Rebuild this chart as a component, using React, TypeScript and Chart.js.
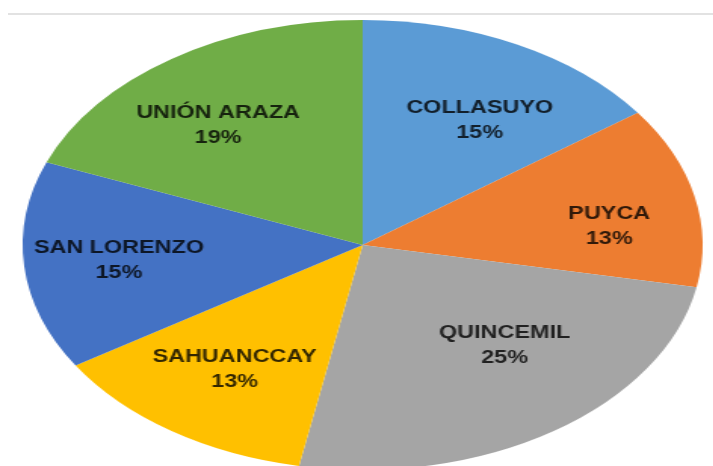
import React, { useEffect, useRef } from "react";
import { Chart, registerables } from "chart.js";

Chart.register(...registerables);

const categories = ["COLLASUYO", "PUYCA", "QUINCEMIL", "SAHUANCCAY", "SAN LORENZO", "UNIÓN ARAZA"];
const shares = [15, 13, 25, 13, 15, 19];
const sliceColors = ["#5B9BD5", "#ED7D31", "#A5A5A5", "#FFC000", "#4472C4", "#70AD47"];

// label placement tweaks (angle shift in degrees, radius fraction)
const labelAngleShift = [5, 6, -9, 0, 0, -4.5];
const labelRadiusFrac = [0.65, 0.73, 0.61, 0.67, 0.72, 0.68];

const STRETCH = 1.511;
const CANVAS_W = 480;
const CANVAS_H = 490;

const labelPlugin = {
  id: "sliceLabels",
  afterDatasetsDraw(chart: any) {
    const ctx = chart.ctx;
    const meta = chart.getDatasetMeta(0);
    const data = chart.data.datasets[0].data as number[];
    const total = data.reduce((a, b) => a + b, 0);
    ctx.save();
    ctx.font = "bold 18px 'Liberation Sans', Arial, sans-serif";
    ctx.textAlign = "center";
    ctx.textBaseline = "middle";
    ctx.fillStyle = "rgba(0,0,0,0.8)";
    meta.data.forEach((arc: any, i: number) => {
      const p = arc.getProps(["x", "y", "startAngle", "endAngle", "outerRadius"], true);
      const mid = (p.startAngle + p.endAngle) / 2 + (labelAngleShift[i] * Math.PI) / 180;
      const r = p.outerRadius * labelRadiusFrac[i];
      const cx = p.x + Math.cos(mid) * r;
      const cy = p.y + Math.sin(mid) * r;
      const pct = Math.round((data[i] / total) * 100) + "%";
      ctx.save();
      ctx.translate(cx, cy);
      ctx.scale(0.86, 1);
      ctx.fillText(String(chart.data.labels[i]), 0, -12.5);
      ctx.fillText(pct, 0, 12.5);
      ctx.restore();
    });
    ctx.restore();
  },
};

export default function App() {
  const ref = useRef<HTMLCanvasElement | null>(null);

  useEffect(() => {
    if (!ref.current) return;
    const chart = new Chart(ref.current, {
      type: "pie",
      data: {
        labels: categories,
        datasets: [
          {
            data: shares,
            backgroundColor: sliceColors,
            borderWidth: 0,
          },
        ],
      },
      options: {
        animation: false,
        responsive: false,
        maintainAspectRatio: false,
        devicePixelRatio: 1,
        layout: { padding: { top: 20, bottom: 20, left: 15, right: 15 } },
        plugins: {
          legend: { display: false },
          tooltip: { enabled: false },
        },
      },
      plugins: [labelPlugin],
    });
    return () => chart.destroy();
  }, []);

  return (
    <div
      style={{
        position: "fixed",
        left: 0,
        top: 0,
        width: 713,
        height: 466,
        overflow: "hidden",
        background: "#ffffff",
      }}
    >
      <div
        style={{
          position: "absolute",
          left: 8,
          right: 0,
          top: 13,
          height: 2,
          background: "#e2e2e2",
        }}
      />
      <div
        style={{
          position: "absolute",
          left: 0,
          top: 0,
          width: CANVAS_W,
          height: CANVAS_H,
          transform: `scaleX(${STRETCH})`,
          transformOrigin: "0 0",
        }}
      >
        <canvas ref={ref} width={CANVAS_W} height={CANVAS_H} style={{ display: "block" }} />
      </div>
    </div>
  );
}
